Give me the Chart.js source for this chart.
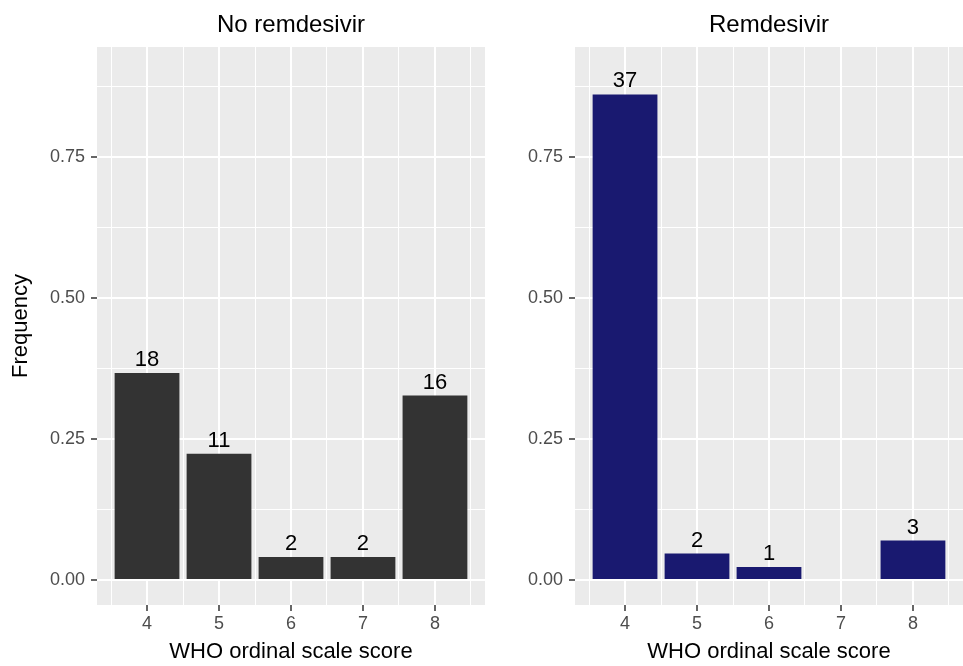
<!DOCTYPE html>
<html>
<head>
<meta charset="utf-8">
<script src="https://cdn.jsdelivr.net/npm/chart.js@4/dist/chart.umd.min.js"></script>
<style>
  html, body { margin: 0; padding: 0; background: #ffffff; }
  #wrap { position: relative; width: 963px; height: 666px; overflow: hidden; }
  canvas { position: absolute; top: 0; }
  #c1 { left: 0; }
  #c2 { left: 487px; }
</style>
</head>
<body>
<div id="wrap">
  <canvas id="c1" width="487" height="666"></canvas>
  <canvas id="c2" width="476" height="666"></canvas>
</div>
<script>
// ---- data ----
const panelTitles = ["No remdesivir", "Remdesivir"];
const scores = [4, 5, 6, 7, 8];
const freqNoRemdesivir = [0.367, 0.224, 0.041, 0.041, 0.327];
const countNoRemdesivir = [18, 11, 2, 2, 16];
const freqRemdesivir = [0.861, 0.047, 0.023, null, 0.070];
const countRemdesivir = [37, 2, 1, null, 3];
const xMajorTicks = [4, 5, 6, 7, 8];
const xMinorTicks = [3.5, 4.5, 5.5, 6.5, 7.5, 8.5];
const yMajorTicks = [0, 0.25, 0.5, 0.75];
const yMinorTicks = [0.125, 0.375, 0.625, 0.875];
const xTitle = "WHO ordinal scale score";
const yTitle = "Frequency";

const FONT = "'Liberation Sans', Arial, Helvetica, sans-serif";

const panelBg = {
  id: 'panelBg',
  beforeDraw(chart) {
    const a = chart.chartArea, ctx = chart.ctx;
    ctx.save();
    ctx.fillStyle = '#EBEBEB';
    ctx.fillRect(a.left, a.top, a.right - a.left, a.bottom - a.top);
    ctx.restore();
  }
};

const panelTitle = {
  id: 'panelTitle',
  afterDraw(chart, args, opts) {
    const a = chart.chartArea, ctx = chart.ctx;
    ctx.save();
    ctx.font = '24px ' + FONT;
    ctx.fillStyle = '#000000';
    ctx.textAlign = 'center';
    ctx.textBaseline = 'alphabetic';
    ctx.fillText(opts.text, (a.left + a.right) / 2, 32);
    ctx.restore();
  }
};

const barLabels = {
  id: 'barLabels',
  afterDatasetsDraw(chart, args, opts) {
    const ctx = chart.ctx;
    const meta = chart.getDatasetMeta(0);
    ctx.save();
    ctx.font = '22px ' + FONT;
    ctx.fillStyle = '#000000';
    ctx.textAlign = 'center';
    ctx.textBaseline = 'alphabetic';
    opts.counts.forEach((c, i) => {
      if (c === null || c === undefined) return;
      const el = meta.data[i];
      if (!el || !isFinite(el.y)) return;
      ctx.fillText(String(c), el.x, el.y - 7);
    });
    ctx.restore();
  }
};

function makeChart(canvasId, title, freqs, counts, color, showYTitle, yAxisWidth, padRight) {
  const data = scores.map((s, i) => ({ x: s, y: freqs[i] }));
  return new Chart(document.getElementById(canvasId), {
    type: 'bar',
    data: {
      datasets: [{
        data: data,
        backgroundColor: color,
        borderWidth: 0,
        // sample spacing is the 0.5-unit tick step, so 2 * 0.9 gives bars 0.9 units wide
        categoryPercentage: 2.0,
        barPercentage: 0.9
      }]
    },
    plugins: [panelBg, panelTitle, barLabels],
    options: {
      responsive: false,
      animation: false,
      events: [],
      layout: { padding: { top: 47, right: padRight, bottom: 0, left: 0 } },
      plugins: {
        legend: { display: false },
        tooltip: { enabled: false },
        title: { display: false },
        panelTitle: { text: title },
        barLabels: { counts: counts }
      },
      scales: {
        x: {
          type: 'linear',
          min: 3.305,
          max: 8.695,
          offset: false,
          border: { display: false },
          grid: {
            offset: false,
            color: '#FFFFFF',
            lineWidth: (ctx) => (ctx.tick && xMajorTicks.includes(ctx.tick.value)) ? 2 : 1,
            tickColor: (ctx) => (ctx.tick && xMajorTicks.includes(ctx.tick.value)) ? '#333333' : 'rgba(0,0,0,0)',
            tickLength: 6,
            tickWidth: 1.5,
            drawTicks: true
          },
          afterBuildTicks: (scale) => {
            scale.ticks = xMinorTicks.concat(xMajorTicks).sort((a, b) => a - b).map(v => ({ value: v }));
          },
          afterFit: (scale) => { scale.height = 61; },
          ticks: {
            autoSkip: false,
            maxRotation: 0,
            minRotation: 0,
            padding: 2,
            color: '#4D4D4D',
            font: { family: FONT, size: 18 },
            callback: (v) => xMajorTicks.includes(v) ? String(v) : ''
          },
          title: {
            display: true,
            text: xTitle,
            color: '#000000',
            font: { family: FONT, size: 22 },
            padding: { top: 0, bottom: 1 }
          }
        },
        y: {
          type: 'linear',
          min: -0.0443,
          max: 0.945,
          border: { display: false },
          grid: {
            color: '#FFFFFF',
            lineWidth: (ctx) => (ctx.tick && yMajorTicks.includes(ctx.tick.value)) ? 2 : 1,
            tickColor: (ctx) => (ctx.tick && yMajorTicks.includes(ctx.tick.value)) ? '#333333' : 'rgba(0,0,0,0)',
            tickLength: 6,
            tickWidth: 1.5,
            drawTicks: true
          },
          afterBuildTicks: (scale) => {
            scale.ticks = yMinorTicks.concat(yMajorTicks).sort((a, b) => a - b).map(v => ({ value: v }));
          },
          afterFit: (scale) => { scale.width = yAxisWidth; },
          ticks: {
            autoSkip: false,
            padding: 6,
            color: '#4D4D4D',
            font: { family: FONT, size: 18 },
            callback: (v) => yMajorTicks.includes(v) ? v.toFixed(2) : ''
          },
          title: {
            display: showYTitle,
            text: yTitle,
            color: '#000000',
            font: { family: FONT, size: 22 },
            padding: { top: 8, bottom: 0 }
          }
        }
      }
    }
  });
}

makeChart('c1', panelTitles[0], freqNoRemdesivir, countNoRemdesivir, '#333333', true, 97, 2);
makeChart('c2', panelTitles[1], freqRemdesivir, countRemdesivir, '#191970', false, 88, 0);
</script>
</body>
</html>
